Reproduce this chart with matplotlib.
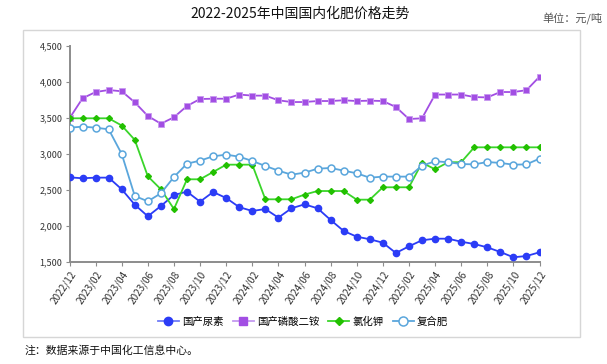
import matplotlib
matplotlib.use("Agg")
import matplotlib.pyplot as plt
from matplotlib.patches import Rectangle
from matplotlib.lines import Line2D

plt.rcParams['font.family'] = ['Noto Sans CJK SC', 'DejaVu Sans']

months = []
y, m = 2022, 12
for i in range(37):
    months.append(f"{y}/{m:02d}")
    m += 1
    if m > 12:
        m = 1
        y += 1

urea = [2680, 2667, 2676, 2676, 2514, 2300, 2139, 2282, 2435, 2481, 2342, 2476, 2393,
        2266, 2213, 2240, 2120, 2250, 2305, 2250, 2088, 1935, 1856, 1820, 1772, 1629,
        1722, 1806, 1828, 1828, 1786, 1754, 1708, 1643, 1570, 1587, 1639]
dap = [3500, 3778, 3865, 3893, 3875, 3722, 3532, 3425, 3514, 3671, 3768, 3772, 3772,
       3830, 3815, 3815, 3750, 3726, 3726, 3740, 3740, 3750, 3740, 3745, 3740, 3657,
       3490, 3500, 3830, 3830, 3830, 3795, 3790, 3865, 3865, 3890, 4078]
kcl = [3500, 3500, 3500, 3500, 3400, 3200, 2694, 2514, 2240, 2653, 2653, 2754, 2856,
       2856, 2856, 2375, 2375, 2375, 2440, 2490, 2490, 2490, 2370, 2370, 2542, 2542,
       2542, 2883, 2792, 2890, 2890, 3097, 3097, 3097, 3097, 3097, 3097]
compound = [3370, 3384, 3370, 3347, 3004, 2421, 2347, 2458, 2685, 2870, 2912, 2972, 2995,
            2967, 2907, 2838, 2773, 2717, 2745, 2800, 2810, 2773, 2736, 2675, 2690, 2690,
            2690, 2842, 2903, 2890, 2865, 2860, 2893, 2880, 2856, 2860, 2940]
series_names = ["国产尿素", "国产磷酸二铵", "氯化钾", "复合肥"]
yticks = [1500, 2000, 2500, 3000, 3500, 4000, 4500]

W, H = 607, 364
fig = plt.figure(figsize=(W/100, H/100), dpi=100)

# outer frame
fig.patches.append(Rectangle((23/W, 1-337/H), (580-23)/W, (337-30)/H,
                             transform=fig.transFigure, fill=False,
                             edgecolor='#d6d6d6', linewidth=1.0))

ax = fig.add_axes([69.5/W, 1-262.3/H, (539.5-69.5)/W, (262.3-46.3)/H])
x = list(range(len(months)))

c_urea = '#2b3cf6'
c_dap = '#a24ee3'
c_kcl = '#3ad52a'
c_comp = '#5aa6dc'

ax.plot(x, urea, color=c_urea, lw=1.3, marker='o', ms=4.5, mfc=c_urea, mec=c_urea,
        label=series_names[0], zorder=3)
ax.plot(x, dap, color=c_dap, lw=1.3, marker='s', ms=4.3, mfc=c_dap, mec='#c89af0',
        mew=0.6, label=series_names[1], zorder=3)
ax.plot(x, kcl, color=c_kcl, lw=1.3, marker='D', ms=3.0, mfc='#22c000', mec='#22c000',
        label=series_names[2], zorder=3)
ax.plot(x, compound, color=c_comp, lw=1.3, marker='o', ms=5.0, mfc='white', mec=c_comp,
        mew=1.1, label=series_names[3], zorder=4)

ax.set_xlim(0, len(months)-1)
ax.set_ylim(1500, 4500)
ax.set_yticks(yticks)
ax.set_yticklabels([f"{v:,}" for v in yticks], fontsize=6.5, color='#333333')
ax.set_xticks(x[::2])
ax.set_xticklabels(months[::2], rotation=56, ha='right', rotation_mode='anchor',
                   fontsize=7.2, color='#333333')
for s in ['top', 'right']:
    ax.spines[s].set_visible(False)
for s in ['left', 'bottom']:
    ax.spines[s].set_color('#8c8c8c')
    ax.spines[s].set_linewidth(1.4)
ax.tick_params(axis='both', length=3, width=0.8, color='#8c8c8c', pad=2)
ax.margins(x=0)

handles = [
    Line2D([], [], color='#6f7cf8', lw=1.3, marker='o', ms=6, mfc=c_urea, mec=c_urea),
    Line2D([], [], color='#c49af0', lw=1.3, marker='s', ms=6, mfc=c_dap, mec=c_dap),
    Line2D([], [], color=c_kcl, lw=1.3, marker='D', ms=4.5, mfc='#22c000', mec='#22c000'),
    Line2D([], [], color=c_comp, lw=1.3, marker='o', ms=6.5, mfc='white', mec=c_comp, mew=1.1),
]
fig.legend(handles, series_names, loc='center', bbox_to_anchor=(303/W, 1-322/H),
           ncol=4, frameon=False, fontsize=7.5, handlelength=2.0, handletextpad=0.3,
           columnspacing=0.9)

fig.text(300/W, 1-14/H, "2022-2025年中国国内化肥价格走势", ha='center', va='center',
         fontsize=10, color='#111111')
fig.text(602/W, 1-19/H, "单位：元/吨", ha='right', va='center', fontsize=8,
         color='#555555')
fig.text(25/W, 1-351/H, "注：数据来源于中国化工信息中心。", ha='left', va='center',
         fontsize=7.8, color='#111111')

fig.savefig("out.png", dpi=100)
